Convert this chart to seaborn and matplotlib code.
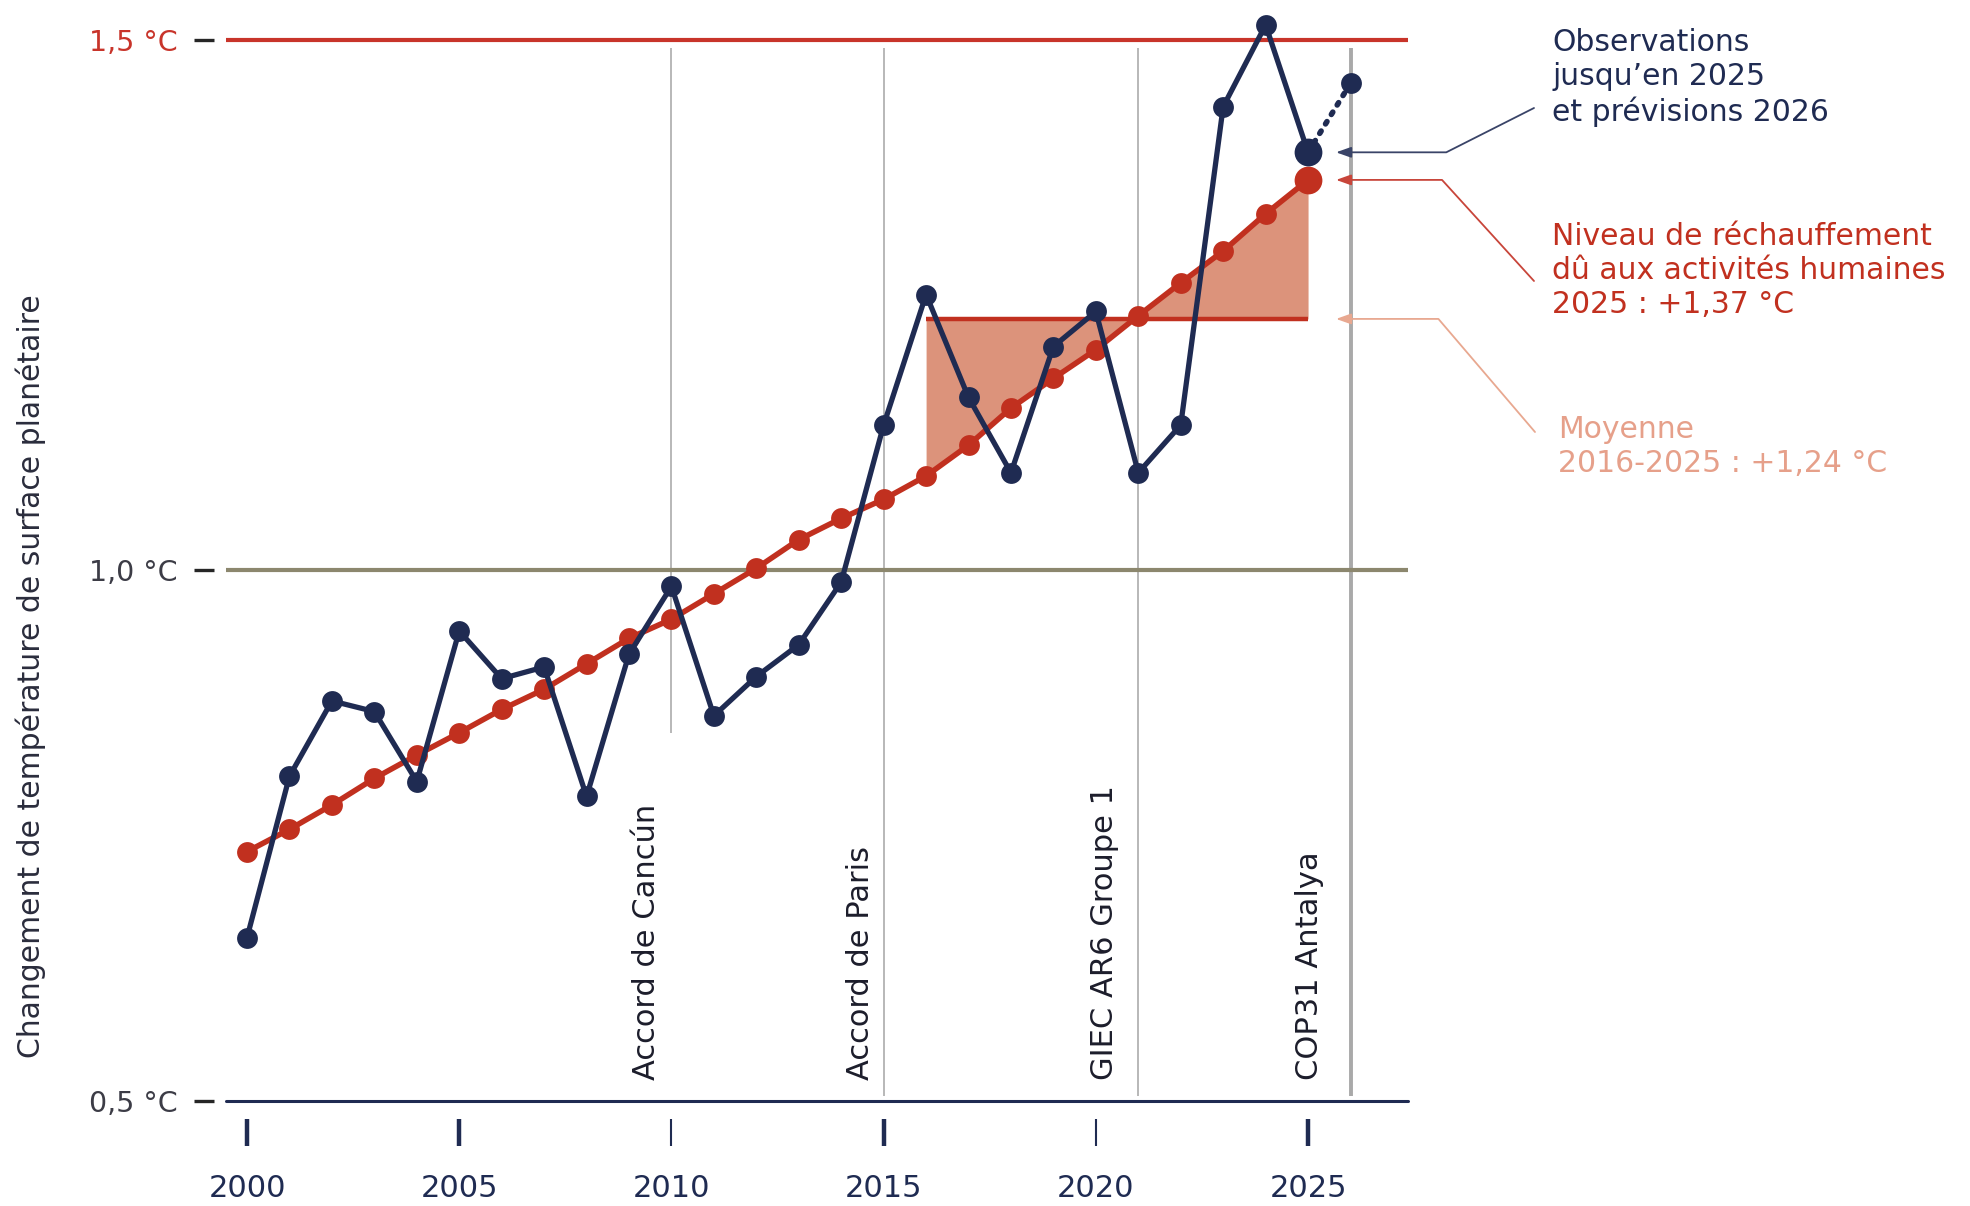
import matplotlib
matplotlib.use("Agg")
import matplotlib.pyplot as plt
import seaborn as sns
import numpy as np
import pandas as pd

# ---------------- data ----------------
years = list(range(2000, 2026))
observed = [0.654, 0.806, 0.877, 0.867, 0.801, 0.943, 0.898, 0.909, 0.787, 0.921,
            0.985, 0.863, 0.900, 0.930, 0.989, 1.137, 1.260, 1.163, 1.092, 1.211,
            1.244, 1.092, 1.137, 1.437, 1.514, 1.394]
human_trend = [0.735, 0.756, 0.779, 0.804, 0.826, 0.847, 0.869, 0.888, 0.912, 0.936,
               0.954, 0.978, 1.002, 1.029, 1.049, 1.067, 1.089, 1.118, 1.153, 1.181,
               1.208, 1.240, 1.271, 1.301, 1.336, 1.368]
forecast_year = 2026
forecast_value = 1.459
mean_period = [2016, 2025]
mean_value = 1.237
threshold_15 = 1.5
threshold_10 = 1.0
y_ticks = [0.5, 1.0, 1.5]
y_tick_labels = ["0,5 °C", "1,0 °C", "1,5 °C"]
x_ticks = [2000, 2005, 2010, 2015, 2020, 2025]
x_tick_labels = ["2000", "2005", "2010", "2015", "2020", "2025"]
event_years = [2010, 2015, 2021, 2026]
event_labels = ["Accord de Cancún", "Accord de Paris", "GIEC AR6 Groupe 1", "COP31 Antalya"]

obs_df = pd.DataFrame({"year": years, "value": observed})
trend_df = pd.DataFrame({"year": years, "value": human_trend})

# ---------------- style ----------------
NAVY = "#1f2b52"
RED = "#c1301f"
RED_LINE = "#c8342a"
SALMON = "#dc937b"
SALMON_TXT = "#e6a08a"
OLIVE = "#8c876e"
GRAY = "#b8b8b8"
TXT = "#2a2c3c"

sns.set_theme(style="white")
plt.rcParams["font.family"] = ["DejaVu Sans"]

fig = plt.figure(figsize=(19.7, 12.06), dpi=100)
W, H = 1970, 1206
ax = fig.add_axes([225.8 / W, 105 / H, 1182 / W, 1093 / H])
ax.set_xlim(1999.5, 2027.35)
ax.set_ylim(0.5, 1.53)

# event vertical lines
for yr in event_years:
    ymin = 0.847 if yr == 2010 else 0.505
    lw = 2.8 if yr == 2026 else 1.4
    col = "#a9a9a9" if yr == 2026 else GRAY
    ax.vlines(yr, ymin, 1.492, color=col, lw=lw, zorder=1)

# reference horizontal lines
ax.axhline(threshold_15, color=RED_LINE, lw=3.0, zorder=2)
ax.axhline(threshold_10, color=OLIVE, lw=3.0, zorder=2)
ax.axhline(0.5, color=NAVY, lw=2.2, zorder=2, clip_on=False)

# shaded area between trend and mean 2016-2025
i0 = years.index(mean_period[0])
i1 = years.index(mean_period[1]) + 1
ax.fill_between(years[i0:i1], human_trend[i0:i1], mean_value, color=SALMON, lw=0, zorder=3)
ax.hlines(mean_value, mean_period[0], mean_period[1], color=RED, lw=3.2, zorder=4)

# human-induced warming trend
sns.lineplot(data=trend_df, x="year", y="value", ax=ax, color=RED, lw=4.0,
             marker="o", markersize=15, markeredgewidth=0, legend=False, zorder=5)
ax.plot([years[-1]], [human_trend[-1]], "o", color=RED, markersize=20, markeredgewidth=0, zorder=5)

# observations
sns.lineplot(data=obs_df, x="year", y="value", ax=ax, color=NAVY, lw=3.8,
             marker="o", markersize=15, markeredgewidth=0, legend=False, zorder=6)
ax.plot([years[-1], forecast_year], [observed[-1], forecast_value], color=NAVY, lw=4.0,
        linestyle=(0, (0.5, 1.5)), dash_capstyle="round", zorder=6)
ax.plot([forecast_year], [forecast_value], "o", color=NAVY, markersize=15, markeredgewidth=0, zorder=6)
ax.plot([years[-1]], [observed[-1]], "o", color=NAVY, markersize=20, markeredgewidth=0, zorder=7)

# event labels
label_offsets = [0.59, 0.54, 0.80, 0.97]
for yr, lab, off in zip(event_years, event_labels, label_offsets):
    ax.text(yr - off, 0.52, lab, rotation=90, ha="center", va="bottom",
            fontsize=22, color="#1c1d2b", zorder=8)

# axes / ticks
for s in ax.spines.values():
    s.set_visible(False)
ax.spines["left"].set_position(("outward", 8.6))
ax.spines["bottom"].set_position(("outward", 13))
ax.set_yticks(y_ticks)
ax.set_yticklabels(y_tick_labels)
ax.set_xticks(x_ticks)
ax.set_xticklabels(x_tick_labels)
ax.tick_params(axis="y", which="major", left=True, length=14.4, width=2.4, pad=12, labelsize=20.5)
ax.tick_params(axis="x", which="major", bottom=True, length=19.4, width=3.0, pad=20,
               labelsize=22, colors=NAVY)
ytick_cols = [NAVY, OLIVE, RED_LINE]
ylab_cols = ["#3c3c46", "#3c3c46", RED_LINE]
for t, c, lc in zip(ax.yaxis.get_major_ticks(), ytick_cols, ylab_cols):
    t.tick1line.set_color(c)
    t.label1.set_color(lc)
xtick_w = [3.2, 3.2, 1.5, 3.2, 1.5, 3.2]
for t, w in zip(ax.xaxis.get_major_ticks(), xtick_w):
    t.tick1line.set_markeredgewidth(w)
    t.label1.set_color(NAVY)
ax.set_xlabel("")
ax.set_ylabel("")
ax.grid(False)

fig.text(31 / W, 530 / H, "Changement de température de surface planétaire", rotation=90,
         ha="center", va="center", fontsize=21.5, color=TXT)

# right-hand annotations
tip_x = 2025.66
ann = [
    ("Observations\njusqu’en 2025\net prévisions 2026", NAVY, "#3a4468", observed[-1], (1534, 1098), 26.8, (1552, 1178)),
    ("Niveau de réchauffement\ndû aux activités humaines\n2025 : +1,37 °C", RED, "#c8453a", human_trend[-1], (1534, 925), 132.3, (1552, 984)),
    ("Moyenne\n2016-2025 : +1,24 °C", SALMON_TXT, "#e8a890", mean_value, (1535, 774), 130.5, (1558, 791)),
]
for text, tcol, lcol, yv, A, angA, tpos in ann:
    ax.annotate("", xy=(tip_x, yv), xycoords="data", xytext=A, textcoords="figure pixels",
                arrowprops=dict(arrowstyle="-|>,head_length=0.45,head_width=0.16",
                                connectionstyle=f"angle,angleA={angA},angleB=0,rad=0",
                                color=lcol, lw=1.3, shrinkA=0, shrinkB=0, mutation_scale=20),
                annotation_clip=False, zorder=9)
    fig.text(tpos[0] / W, tpos[1] / H, text, ha="left", va="top", fontsize=21.5,
             color=tcol, linespacing=1.22)

fig.savefig("out.png", dpi=100, facecolor="white")
